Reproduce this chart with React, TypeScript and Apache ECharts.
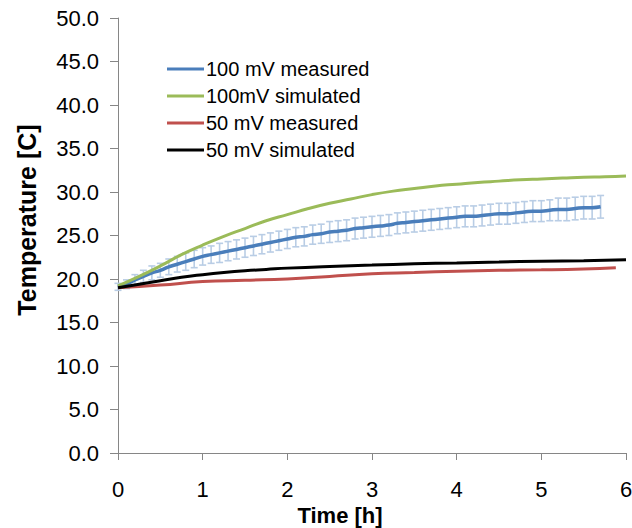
import React, { useEffect, useRef } from "react";
import * as echarts from "echarts";

const FONT = "'Liberation Sans', Arial, sans-serif";

// 100 mV measured (every 0.1 h)
const measured100T = [
  0.0, 0.1, 0.2, 0.3, 0.4, 0.5, 0.6, 0.7, 0.8, 0.9,
  1.0, 1.1, 1.2, 1.3, 1.4, 1.5, 1.6, 1.7, 1.8, 1.9,
  2.0, 2.1, 2.2, 2.3, 2.4, 2.5, 2.6, 2.7, 2.8, 2.9,
  3.0, 3.1, 3.2, 3.3, 3.4, 3.5, 3.6, 3.7, 3.8, 3.9,
  4.0, 4.1, 4.2, 4.3, 4.4, 4.5, 4.6, 4.7, 4.8, 4.9,
  5.0, 5.1, 5.2, 5.3, 5.4, 5.5, 5.6, 5.7,
];
const measured100V = [
  19.1, 19.4, 19.9, 20.3, 20.7, 21.0, 21.4, 21.7, 22.0, 22.3,
  22.6, 22.8, 23.0, 23.2, 23.4, 23.6, 23.8, 24.0, 24.2, 24.4,
  24.6, 24.8, 24.9, 25.1, 25.2, 25.4, 25.5, 25.6, 25.8, 25.9,
  26.0, 26.1, 26.2, 26.4, 26.5, 26.6, 26.7, 26.8, 26.9, 27.0,
  27.1, 27.2, 27.2, 27.3, 27.4, 27.5, 27.5, 27.6, 27.7, 27.8,
  27.8, 27.9, 28.0, 28.0, 28.1, 28.2, 28.2, 28.3,
];
const measured100Err = [
  0.4, 0.5, 0.6, 0.7, 0.8, 0.8, 0.9, 0.9, 1.0, 1.0,
  1.0, 1.0, 1.1, 1.1, 1.1, 1.1, 1.1, 1.1, 1.1, 1.1,
  1.1, 1.1, 1.1, 1.1, 1.1, 1.2, 1.2, 1.2, 1.2, 1.2,
  1.2, 1.2, 1.2, 1.2, 1.2, 1.2, 1.2, 1.2, 1.2, 1.2,
  1.2, 1.2, 1.2, 1.2, 1.2, 1.2, 1.2, 1.2, 1.2, 1.2,
  1.2, 1.2, 1.3, 1.3, 1.3, 1.3, 1.3, 1.3,
];

// 100 mV simulated
const sim100T = [0, 0.25, 0.5, 0.75, 1.0, 1.25, 1.5, 1.75, 2.0, 2.25, 2.5, 2.75, 3.0, 3.25, 3.5, 3.75, 4.0, 4.25, 4.5, 4.75, 5.0, 5.25, 5.5, 5.75, 6.0];
const sim100V = [19.2, 20.3, 21.5, 22.8, 23.9, 24.9, 25.8, 26.7, 27.4, 28.1, 28.7, 29.2, 29.7, 30.1, 30.4, 30.7, 30.9, 31.1, 31.25, 31.4, 31.5, 31.6, 31.7, 31.75, 31.85];

// 50 mV measured
const measured50T = [0, 0.5, 1.0, 1.5, 2.0, 2.5, 3.0, 3.5, 4.0, 4.5, 5.0, 5.5, 5.88];
const measured50V = [19.0, 19.3, 19.7, 19.85, 20.0, 20.3, 20.6, 20.75, 20.9, 21.0, 21.05, 21.15, 21.3];

// 50 mV simulated
const sim50T = [0, 0.25, 0.5, 0.75, 1.0, 1.25, 1.5, 1.75, 2.0, 2.5, 3.0, 3.5, 4.0, 4.5, 5.0, 5.5, 6.0];
const sim50V = [19.0, 19.4, 19.8, 20.2, 20.5, 20.75, 20.95, 21.1, 21.25, 21.45, 21.6, 21.75, 21.85, 21.95, 22.05, 22.1, 22.2];

const seriesNames = ["100 mV measured", "100mV simulated", "50 mV measured", "50 mV simulated"];
const seriesColors = ["#4a7ebb", "#9bbb59", "#c0504d", "#000000"];
const errColor = "#b9cde5";

const pairs = (t: number[], v: number[]) => t.map((x, i) => [x, v[i]]);

export default function App() {
  const ref = useRef<HTMLDivElement>(null);
  useEffect(() => {
    if (!ref.current) return;
    const chart = echarts.init(ref.current, null, { renderer: "svg" });
    const errData = measured100T.map((t, i) => [t, measured100V[i] - measured100Err[i], measured100V[i] + measured100Err[i]]);
    const lineSeries = (name: string, color: string, data: number[][], z: number, width: number) => ({
      name,
      type: "line",
      data,
      smooth: true,
      showSymbol: false,
      symbol: "none",
      z,
      lineStyle: { color, width },
      itemStyle: { color },
    });
    chart.setOption({
      animation: false,
      grid: { left: 118, right: 6, top: 18, bottom: 75, outerBoundsMode: "none" },
      legend: {
        orient: "vertical",
        left: 162,
        top: 54,
        itemGap: 7,
        itemWidth: 37,
        itemHeight: 3,
        icon: "rect",
        data: seriesNames,
        textStyle: { fontFamily: FONT, fontSize: 20, color: "#000", padding: [0, 0, 0, -3] },
      },
      xAxis: {
        type: "value",
        min: 0,
        max: 6,
        interval: 1,
        splitLine: { show: false },
        axisLine: { lineStyle: { color: "#868686", width: 1 } },
        axisTick: { show: true, length: 7, lineStyle: { color: "#868686" } },
        axisLabel: { fontFamily: FONT, fontSize: 22, color: "#000", margin: 25 },
      },
      yAxis: {
        type: "value",
        min: 0,
        max: 50,
        interval: 5,
        splitLine: { show: false },
        axisLine: { show: true, lineStyle: { color: "#868686", width: 1 } },
        axisTick: { show: true, length: 8, lineStyle: { color: "#868686" } },
        axisLabel: { fontFamily: FONT, fontSize: 22, color: "#000", margin: 19, formatter: (v: number) => v.toFixed(1) },
      },
      graphic: [
        {
          type: "text",
          x: 340,
          y: 515,
          style: { text: "Time [h]", font: `bold 22px ${FONT}`, fill: "#000", align: "center", verticalAlign: "middle" },
        },
        {
          type: "text",
          x: 27,
          y: 220,
          rotation: Math.PI / 2,
          style: { text: "Temperature [C]", font: `bold 25px ${FONT}`, fill: "#000", align: "center", verticalAlign: "middle" },
        },
      ],
      series: [
        {
          name: "error",
          type: "custom",
          data: errData,
          encode: { x: 0, y: [1, 2] },
          z: 1,
          renderItem: (params: any, api: any) => {
            const x = api.value(0);
            const lo = api.value(1);
            const hi = api.value(2);
            const p1 = api.coord([x, hi]);
            const p2 = api.coord([x, lo]);
            const hw = 3.5;
            const style = { stroke: errColor, lineWidth: 1.6 };
            return {
              type: "group",
              children: [
                { type: "line", shape: { x1: p1[0], y1: p1[1], x2: p2[0], y2: p2[1] }, style },
                { type: "line", shape: { x1: p1[0] - hw, y1: p1[1], x2: p1[0] + hw, y2: p1[1] }, style },
                { type: "line", shape: { x1: p2[0] - hw, y1: p2[1], x2: p2[0] + hw, y2: p2[1] }, style },
              ],
            };
          },
        },
        lineSeries(seriesNames[0], seriesColors[0], pairs(measured100T, measured100V), 3, 3.5),
        lineSeries(seriesNames[1], seriesColors[1], pairs(sim100T, sim100V), 4, 3),
        lineSeries(seriesNames[2], seriesColors[2], pairs(measured50T, measured50V), 4, 3),
        lineSeries(seriesNames[3], seriesColors[3], pairs(sim50T, sim50V), 5, 3),
      ],
    });
    return () => chart.dispose();
  }, []);
  return <div ref={ref} style={{ position: "absolute", left: 0, top: 0, width: 632, height: 528 }} />;
}
